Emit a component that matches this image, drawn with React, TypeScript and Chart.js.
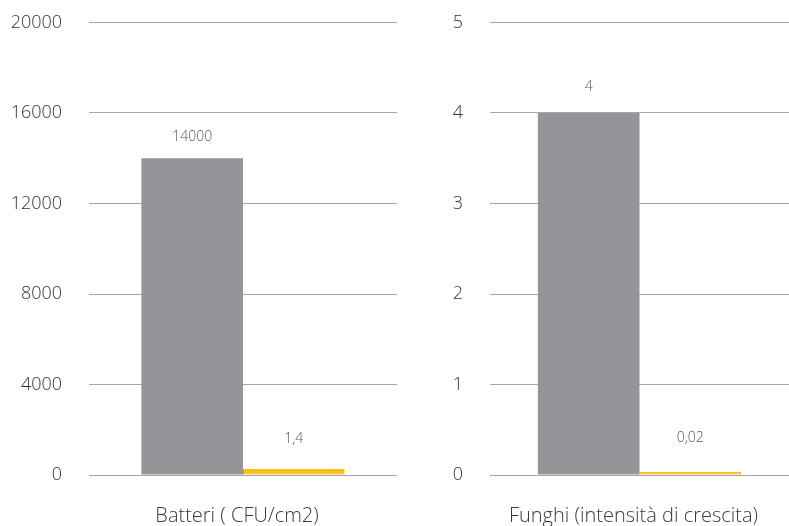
import { useEffect, useRef } from "react";
import { Chart, registerables } from "chart.js";

Chart.register(...registerables);

if (typeof document !== "undefined") {
  document.body.style.margin = "0";
  document.body.style.overflow = "hidden";
}

// ---- data ----
const leftCategories = ["Batteri ( CFU/cm2)"];
const rightCategories = ["Funghi (intensità di crescita)"];
const leftGrey = [14000];
const leftYellow = [1.4];
const rightGrey = [4];
const rightYellow = [0.02];
const leftTicks = [0, 4000, 8000, 12000, 16000, 20000];
const rightTicks = [0, 1, 2, 3, 4, 5];
const seriesNames = ["Controllo", "Trattato"];

const FONT = '"Open Sans", "Noto Sans", sans-serif';
const GREY = "#939598";
const YELLOW = "#FCBF12";

const barLabels = {
  id: "barLabels",
  afterDatasetsDraw(chart: any, _args: any, opts: any) {
    const ctx = chart.ctx;
    chart.data.datasets.forEach((ds: any, i: number) => {
      const meta = chart.getDatasetMeta(i);
      meta.data.forEach((bar: any, j: number) => {
        const v = ds.data[j];
        const txt = String(v).replace(".", ",");
        ctx.save();
        ctx.font = `300 14px ${FONT}`;
        ctx.fillStyle = "#555555";
        ctx.textAlign = "center";
        ctx.textBaseline = "middle";
        ctx.fillText(txt, bar.x, bar.y - (opts.offsets?.[i] ?? 24));
        ctx.restore();
      });
    });
    // category labels below the plot
    const xs = chart.scales.x;
    const area = chart.chartArea;
    (chart.data.labels || []).forEach((lab: string, k: number) => {
      ctx.save();
      ctx.font = `300 20px ${FONT}`;
      ctx.fillStyle = "#3a3a3a";
      ctx.textAlign = "center";
      ctx.textBaseline = "middle";
      ctx.fillText(lab, xs.getPixelForValue(k) + (opts.labelDx ?? 0), area.bottom + (opts.labelDy ?? 41));
      ctx.restore();
    });
  },
};

function makeConfig(
  categories: string[],
  grey: number[],
  yellow: number[],
  ticks: number[],
  axisWidth: number,
  padRight: number,
  catPct: number,
  minLen: number,
  offsets: number[]
): any {
  return {
    type: "bar",
    data: {
      labels: categories,
      datasets: [
        {
          label: seriesNames[0],
          data: grey,
          backgroundColor: GREY,
          borderWidth: 0,
        },
        {
          label: seriesNames[1],
          data: yellow,
          backgroundColor: YELLOW,
          borderColor: "#d9a300",
          borderWidth: { left: 1, bottom: 1, top: 0, right: 0 },
          borderSkipped: false,
          minBarLength: minLen,
        },
      ],
    },
    options: {
      animation: false,
      responsive: true,
      maintainAspectRatio: false,
      layout: { padding: { top: 22.5, right: padRight, bottom: 51, left: 0 } },
      datasets: {
        bar: { categoryPercentage: catPct, barPercentage: 1 },
      },
      plugins: {
        legend: { display: false },
        tooltip: { enabled: false },
        barLabels: { offsets, labelDx: -6, labelDy: 41 },
      },
      scales: {
        x: {
          display: false,
        },
        y: {
          min: ticks[0],
          max: ticks[ticks.length - 1],
          afterBuildTicks: (scale: any) => {
            scale.ticks = ticks.map((v) => ({ value: v }));
          },
          afterFit: (scale: any) => {
            scale.width = axisWidth;
            scale.paddingTop = 0;
            scale.paddingBottom = 0;
          },
          grid: { color: "#a6a6a6", lineWidth: 1, drawTicks: false },
          border: { display: false },
          ticks: {
            font: { family: FONT, size: 18, weight: "300" },
            color: "#333333",
            padding: 27,
            callback: (v: any) => String(v),
          },
        },
      },
    },
    plugins: [barLabels],
  };
}

function ChartBox({ config, style }: { config: any; style: any }) {
  const ref = useRef<HTMLCanvasElement | null>(null);
  useEffect(() => {
    if (!ref.current) return;
    const c = new Chart(ref.current, config);
    return () => c.destroy();
  }, [config]);
  return (
    <div style={{ position: "absolute", top: 0, height: 526, ...style }}>
      <canvas ref={ref} />
    </div>
  );
}

const leftConfig = makeConfig(
  leftCategories, leftGrey, leftYellow, leftTicks, 89, 3, 0.66, 6, [21, 30]
);
const rightConfig = makeConfig(
  rightCategories, rightGrey, rightYellow, rightTicks, 90, 0, 0.68, 3, [26, 34]
);

export default function App() {
  return (
    <div style={{ position: "relative", width: 789, height: 526, background: "#fff", overflow: "hidden" }}>
      <ChartBox config={leftConfig} style={{ left: 0, width: 400 }} />
      <ChartBox config={rightConfig} style={{ left: 400, width: 389 }} />
    </div>
  );
}
